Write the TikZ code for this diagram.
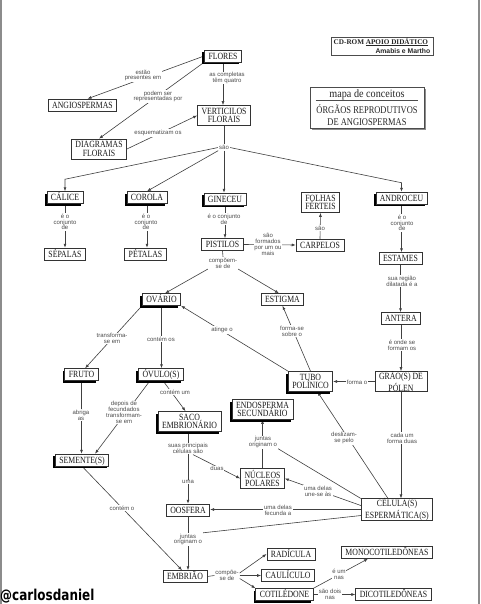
\documentclass[tikz,border=0pt]{standalone}
\usepackage{fontspec}
\usetikzlibrary{arrows.meta,shadows,backgrounds,calc}
\newfontfamily\bxf[FakeStretch=0.82]{Liberation Serif}
\newfontfamily\ttlf[FakeStretch=0.9]{Liberation Serif}
\newfontfamily\cdf{Liberation Serif}
\newfontfamily\lbf{Liberation Sans}
\newfontfamily\wmf[FakeStretch=0.8]{DejaVu Sans}
\tikzset{
  boxbase/.style={draw=black!80, line width=0.7pt, fill=white, align=center,
    font={\bxf\fontsize{9.5}{8.5}\selectfont}, inner xsep=4pt, text=black!90},
  box/.style={boxbase, text height=6.4pt, text depth=0.2pt, inner ysep=2.6pt},
  boxtwo/.style={boxbase, inner ysep=0pt, minimum height=20pt},
  shd/.style={drop shadow={shadow xshift=-2.2pt,shadow yshift=-2.2pt,fill=black,opacity=1}},
  lbl/.style={font={\lbf\fontsize{6}{5.8}\selectfont}, align=center, fill=white, inner sep=0.8pt, text=black!70},
  ln/.style={draw=black!75, line width=0.6pt},
  arr/.style={ln, -{Latex[length=4pt,width=3pt]}}
}
\begin{document}
\begin{tikzpicture}[x=1pt,y=-1pt]
\useasboundingbox (0,0) rectangle (480,604);
% header
\node[draw=black!70, line width=0.6pt, minimum width=102pt, minimum height=18pt, inner sep=0pt] (cdrom) at (382,46) {};
\node[anchor=west, inner sep=0.5pt, font={\cdf\bfseries\fontsize{7.2}{7.2}\selectfont}, text=black!85] (cdA) at (333,42) {CD-ROM \underline{APOIO DIDÁTICO}};
\node[anchor=east, inner sep=0.5pt, font={\lbf\bfseries\fontsize{6.8}{6.8}\selectfont}, text=black!85] (cdB) at (431,50.7) {Amabis e Martho};
\node[draw=black!70, line width=0.8pt, fill=white, minimum width=114pt, minimum height=41pt, inner sep=0pt,
  drop shadow={shadow xshift=1.5pt,shadow yshift=-2.5pt,fill=black!45,opacity=1}] (title) at (367,107.5) {};
\node[inner sep=0pt, font={\ttlf\fontsize{11.3}{11}\selectfont}, text=black!85] (titA) at (367,95) {mapa de conceitos};
\node[inner sep=0pt, align=center, font={\bxf\fontsize{10.3}{12}\selectfont}, text=black!85] (titB) at (367,115.5) {ÓRGÃOS REPRODUTIVOS\\DE ANGIOSPERMAS};
\draw[black!70, line width=0.6pt] ($(title.north west)+(6,13.5)$) -- ($(title.north east)+(-6,13.5)$);
% boxes
\node[box,shd] (flores) at (223,56) {FLORES};
\node[box] (angio) at (82.5,105) {ANGIOSPERMAS};
\node[boxtwo] (vert) at (224,115.5) {VERTICILOS\\FLORAIS};
\node[boxtwo] (diag) at (99,149) {DIAGRAMAS\\FLORAIS};
\node[box,shd] (calice) at (65,197.5) {CÁLICE};
\node[box,shd] (corola) at (147,197.5) {COROLA};
\node[box,shd] (gineceu) at (225,199) {GINECEU};
\node[boxtwo] (folhas) at (320.5,202.5) {FOLHAS\\FÉRTEIS};
\node[box,shd] (androceu) at (401.5,198) {ANDROCEU};
\node[box] (sepalas) at (65,254) {SÉPALAS};
\node[box] (petalas) at (145.5,254) {PÉTALAS};
\node[box] (pistilos) at (222.5,244.5) {PISTILOS};
\node[box] (carpelos) at (320,245) {CARPELOS};
\node[box] (estames) at (400.5,258.5) {ESTAMES};
\node[box,shd] (ovario) at (161.5,299.5) {OVÁRIO};
\node[box] (estigma) at (282.5,299.5) {ESTIGMA};
\node[box] (antera) at (401,318.5) {ANTERA};
\node[box,shd] (fruto) at (81.5,374.5) {FRUTO};
\node[box,shd] (ovulo) at (161,374.5) {ÓVULO(S)};
\node[boxtwo,shd] (tubo) at (310.5,381.5) {TUBO\\POLÍNICO};
\node[boxtwo] (grao) at (401,381.5) {GRÃO(S) DE\\PÓLEN};
\node[boxtwo,shd] (saco) at (189.5,421.5) {SACO\\EMBRIONÁRIO};
\node[boxtwo,shd] (endosperma) at (262.5,409.5) {ENDOSPERMA\\SECUNDÁRIO};
\node[box,shd] (semente) at (82,460) {SEMENTE(S)};
\node[boxtwo] (nucleos) at (262.5,478.5) {NÚCLEOS\\POLARES};
\node[box] (oosfera) at (188,510) {OOSFERA};
\node[boxtwo] (celula) at (397,509.5) {CÉLULA(S)\\ESPERMÁTICA(S)};
\node[box] (embriao) at (185,576.5) {EMBRIÃO};
\node[box] (radicula) at (291,554) {RADÍCULA};
\node[box] (caulic) at (288,575.5) {CAULÍCULO};
\node[box,shd] (cotiled) at (284.5,594.5) {COTILÉDONE};
\node[box] (mono) at (387,552.5) {MONOCOTILEDÔNEAS};
\node[box] (dicot) at (393.5,594.5) {DICOTILEDÔNEAS};
% labels
\node[lbl] (lEst) at (143,75.5) {estão\\presentes em};
\node[lbl] (lPod) at (158,96.5) {podem ser\\representadas por};
\node[lbl] (lAs) at (227,78) {as completas\\têm quatro};
\node[lbl] (lEsq) at (158,133) {esquematizam os};
\node[lbl] (sao) at (224,147.5) {são};
\node[lbl] (lC1) at (65,222) {é o\\conjunto\\de};
\node[lbl] (lC2) at (146,222) {é o\\conjunto\\de};
\node[lbl] (lG) at (224,219) {é o conjunto\\de};
\node[lbl] (lP) at (268,244.5) {são\\formados\\por um ou\\mais};
\node[lbl] (lF) at (320,228) {são};
\node[lbl] (lA) at (402,223) {é o\\conjunto\\de};
\node[lbl] (lE) at (402,281) {sua região\\dilatada é a};
\node[lbl] (lAn) at (402,345) {é onde se\\formam os};
\node[lbl] (lFo) at (357,382) {forma o};
\node[lbl] (lCa) at (402,438) {cada um\\forma duas};
\node[lbl] (compoem) at (223,263) {compõem-\\se de};
\node[lbl] (lTr) at (112,338.5) {transforma-\\se em};
\node[lbl] (lCo) at (161,339) {contém os};
\node[lbl] (lAt) at (222,330) {atinge o};
\node[lbl] (lFs) at (292,331) {forma-se\\sobre o};
\node[lbl] (lCu) at (175,392) {contém um};
\node[lbl] (lDe) at (124,412.5) {depois de\\fecundados\\transformam-\\se em};
\node[lbl] (lAb) at (81,415) {abriga\\as};
\node[lbl] (lCt) at (122,508) {contém o};
\node[lbl] (suas) at (188,448.5) {suas principais\\células são};
\node[lbl] (lUma) at (188,482) {uma};
\node[lbl] (lDuas) at (217,468.5) {duas};
\node[lbl] (juntasA) at (263,442) {juntas\\originam o};
\node[lbl] (lDz) at (344,438) {deslizam-\\se pelo};
\node[lbl] (lUn) at (318,491) {uma delas\\une-se às};
\node[lbl] (lFe) at (278,510.5) {uma delas\\fecunda a};
\node[lbl] (juntasB) at (188,539.5) {juntas\\originam o};
\node[lbl] (compoe) at (227,575.5) {compõe-\\se de};
\node[lbl] (lEu) at (339,574.5) {é um\\nas};
\node[lbl] (lSd) at (330,594) {são dois\\nas};
% watermark
\node[anchor=south west, inner sep=0pt, font={\wmf\bfseries\fontsize{15}{15}\selectfont}, text=black] (wm) at (0,603) {@carlosdaniel};
\begin{scope}[on background layer]
\fill[white] (0,0) rectangle (480,604);
\draw[black!45, line width=1.2pt] (1,0) -- (1,604);
\draw[black!45, line width=1.2pt] (479,0) -- (479,604);
\draw[arr] (flores.west) -- ($(angio.north)+(5,0)$);
\draw[arr] (flores.south west) -- (diag.north);
\draw[arr] (flores.south) -- (flores.south |- vert.north);
\draw[arr] (diag.east) -- (vert.west);
\draw[ln] (vert.south) -- (sao.north);
\draw[arr] (sao.west) -- ($(calice.north)+(0,-12)$) -- (calice.north);
\draw[arr] (sao.south west) -- (corola.north);
\draw[arr] (sao.south) -- (sao.south |- gineceu.north);
\draw[arr] (sao.east) -- ($(androceu.north)+(0,-9)$) -- (androceu.north);
\draw[arr] (calice.south) -- (sepalas.north);
\draw[arr] (corola.south) -- (corola.south |- petalas.north);
\draw[arr] (gineceu.south) -- (gineceu.south |- pistilos.north);
\draw[arr] (pistilos.east) -- (carpelos.west);
\draw[arr] (carpelos.north) -- (folhas.south);
\draw[arr] (androceu.south) -- (androceu.south |- estames.north);
\draw[arr] (estames.south) -- (estames.south |- antera.north);
\draw[arr] (antera.south) -- (antera.south |- grao.north);
\draw[arr] (grao.west) -- (tubo.east);
\draw[arr] (grao.south) -- (grao.south |- celula.north);
\draw[ln] (pistilos.south) -- (compoem.north);
\draw[arr] (compoem.south west) -- (ovario.60);
\draw[arr] (compoem.south east) -- (estigma.120);
\draw[arr] (ovario.south west) -- (fruto.60);
\draw[arr] (ovario.south) -- (ovario.south |- ovulo.north);
\draw[arr] (tubo.north west) -- (ovario.south east);
\draw[arr] (tubo.north) -- (estigma.south);
\draw[arr] ($(ovulo.south)+(2,0)$) -- ($(saco.north)+(-4,0)$);
\draw[arr] ($(ovulo.south)+(-11,0)$) -- ($(semente.north)+(13,0)$);
\draw[arr] (fruto.south) -- (fruto.south |- semente.north);
\draw[arr] (semente.south) -- ($(embriao.north)+(-3,0)$);
\draw[arr] (oosfera.north |- saco.south) -- (oosfera.north);
\draw[arr] ($(suas.south)+(5,0)$) -- (nucleos.west);
\draw[arr] (nucleos.north) -- (endosperma.south);
\draw[ln] (celula.north west) -- (juntasA.south east);
\draw[arr] ($(celula.north)+(-9,0)$) -- ($(tubo.south)+(7,0)$);
\draw[arr] ($(celula.west)+(0,-4)$) -- (nucleos.east);
\draw[arr] (celula.west) -- (celula.west -| oosfera.east);
\draw[ln] ($(celula.south west)+(0,-5)$) -- (juntasB.north east);
\draw[arr] (oosfera.south) -- (oosfera.south |- embriao.north);
\draw[ln] (embriao.east) -- (compoe.west);
\draw[arr] ($(compoe.east)+(0,-2.5)$) -- (radicula.west);
\draw[arr] (compoe.east) -- (caulic.west);
\draw[arr] ($(compoe.east)+(0,3)$) -- (cotiled.north west);
\draw[arr] (cotiled.north east) -- ($(mono.south)+(-19,0)$);
\draw[arr] (cotiled.east) -- (dicot.west);
\end{scope}
\end{tikzpicture}
\end{document}
